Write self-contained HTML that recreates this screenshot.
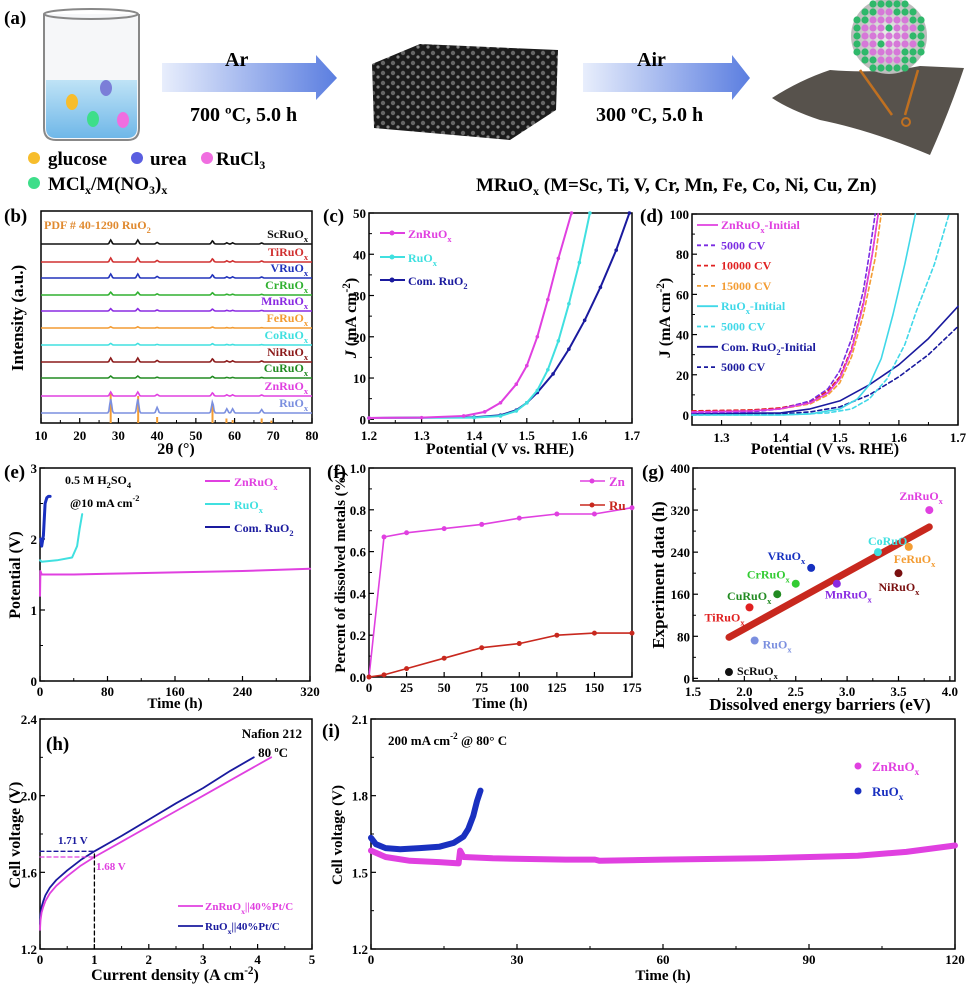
<!DOCTYPE html>
<html><head><meta charset="utf-8"><style>
html,body{margin:0;padding:0;background:#fff;}
svg{display:block;font-family:"Liberation Serif",serif;font-weight:bold;}
</style></head><body>
<svg id="fig" width="967" height="984" viewBox="0 0 967 984" xmlns="http://www.w3.org/2000/svg">
<defs>
<linearGradient id="arr" x1="0" x2="1"><stop offset="0" stop-color="#e8eefc"/><stop offset="1" stop-color="#5b7ee0"/></linearGradient>
<linearGradient id="liq" x1="0" x2="0" y1="0" y2="1"><stop offset="0" stop-color="#bfe3f6"/><stop offset="1" stop-color="#6fb7e8"/></linearGradient>
<radialGradient id="sph"><stop offset="0" stop-color="#eee"/><stop offset="1" stop-color="#bbb"/></radialGradient>
<pattern id="foam" width="10" height="10" patternUnits="userSpaceOnUse"><rect width="10" height="10" fill="#1b1b1b"/><circle cx="3" cy="3" r="2.2" fill="#666"/><circle cx="8" cy="7" r="1.6" fill="#888"/></pattern>
</defs>
<g>
<text x="4" y="24" font-size="19">(a)</text>
<path d="M44 14 L44 128 Q44 140 56 140 L128 140 Q139 140 139 128 L139 14" fill="#f6f7f9" stroke="#888" stroke-width="2"/>
<ellipse cx="91" cy="14" rx="47" ry="5" fill="none" stroke="#888" stroke-width="2"/>
<path d="M46 80 L137 80 L137 128 Q137 138 127 138 L56 138 Q46 138 46 128Z" fill="url(#liq)"/>
<ellipse cx="72" cy="102" rx="6" ry="8" fill="#f7bd2c"/>
<ellipse cx="106" cy="88" rx="6" ry="8" fill="#7b7ed8"/>
<ellipse cx="93" cy="119" rx="6" ry="8" fill="#3ede8a"/>
<ellipse cx="123" cy="120" rx="6" ry="8" fill="#f06ee0"/>
<path d="M162 63 L316 63 L316 55 L337 78 L316 100 L316 92 L162 92Z" fill="url(#arr)"/>
<text x="225" y="66" font-size="20">Ar</text>
<text x="190" y="121" font-size="20">700 ºC, 5.0 h</text>
<path d="M372 64 L420 44 L558 50 L556 110 L510 140 L374 128Z" fill="url(#foam)"/>
<path d="M583 63 L732 63 L732 55 L750 78 L732 100 L732 92 L583 92Z" fill="url(#arr)"/>
<text x="637" y="66" font-size="20">Air</text>
<text x="596" y="121" font-size="20">300 ºC, 5.0 h</text>
<path d="M772 98 Q800 80 830 70 Q880 74 920 66 L964 68 Q950 110 930 155 Q870 130 820 120 Q790 110 772 98Z" fill="#57524c"/>
<line x1="860" y1="70" x2="892" y2="115" stroke="#c07020" stroke-width="2.5"/>
<line x1="918" y1="70" x2="905" y2="115" stroke="#c07020" stroke-width="2.5"/>
<circle cx="906" cy="122" r="4" fill="none" stroke="#c07020" stroke-width="2"/>
<circle cx="889" cy="36" r="38" fill="url(#sph)"/>
<g id="atoms"></g>
<circle cx="34" cy="158" r="6" fill="#f7bd2c"/>
<text x="48" y="165" font-size="19">glucose</text>
<circle cx="137" cy="158" r="6" fill="#5a5ee0"/>
<text x="150" y="165" font-size="19">urea</text>
<circle cx="207" cy="158" r="6" fill="#f06ee0"/>
<text x="216" y="165" font-size="19">RuCl<tspan font-size="12" dy="4">3</tspan></text>
<circle cx="34" cy="183" r="6" fill="#3ede8a"/>
<text x="48" y="190" font-size="19">MCl<tspan font-size="12" dy="4">x</tspan><tspan dy="-4">/M(NO</tspan><tspan font-size="12" dy="4">3</tspan><tspan dy="-4">)</tspan><tspan font-size="12" dy="4">x</tspan></text>
<text x="476" y="191" font-size="19">MRuO<tspan font-size="12" dy="4">x</tspan><tspan dy="-4"> (M=Sc, Ti, V, Cr, Mn, Fe, Co, Ni, Cu, Zn)</tspan></text>
</g>
<g id="charts"></g>
</svg>
<script>
// ---------- data ----------
var xrdSamples = ["ScRuOx","TiRuOx","VRuOx","CrRuOx","MnRuOx","FeRuOx","CoRuOx","NiRuOx","CuRuOx","ZnRuOx","RuOx"];
var xrdPeaks = [28.0,35.0,40.0,54.3,58.0,59.5,67.0];
var xrdPeakHeights = [1.0,1.0,0.4,0.8,0.3,0.3,0.25];
var xrdSampleScale = [1.0,1.0,1.0,0.7,0.6,0.3,0.4,1.0,0.5,1.0,3.5];
var pdfPeaks = [28.0,35.1,40.0,54.3,57.9,59.5,67.0,69.5];
var pdfHeights = [100,90,20,60,15,10,15,8];

var cZnV=[1.2,1.3,1.38,1.42,1.45,1.48,1.5,1.52,1.54,1.56,1.585];
var cZnJ=[0.3,0.4,0.8,1.8,4,8.5,13,20,29,39,50];
var cRuV=[1.2,1.4,1.45,1.48,1.5,1.52,1.54,1.56,1.58,1.6,1.62];
var cRuJ=[0.3,0.4,0.8,2,4,7,12,19,28,38,50];
var cComV=[1.2,1.4,1.45,1.48,1.5,1.52,1.55,1.58,1.61,1.64,1.67,1.695];
var cComJ=[0.3,0.5,1,2.2,4,6.5,11,17,24,32,41,50];

var dZnIniV=[1.25,1.35,1.4,1.45,1.48,1.5,1.52,1.54,1.555,1.565];
var dZnIniJ=[1.5,2,3,6,11,18,32,55,80,100];
var dZn5kV=[1.25,1.35,1.4,1.45,1.48,1.5,1.52,1.54,1.55,1.56];
var dZn5kJ=[1,1.5,3,7,13,22,38,62,80,100];
var dZn10kV=[1.25,1.35,1.4,1.45,1.48,1.5,1.52,1.54,1.555,1.565];
var dZn10kJ=[2,2.5,3.5,6.5,12,19,33,56,80,100];
var dZn15kV=[1.25,1.35,1.4,1.45,1.48,1.5,1.52,1.54,1.56,1.57];
var dZn15kJ=[1.5,2,3,5.5,10,16,29,50,78,100];
var dRuIniV=[1.25,1.4,1.45,1.5,1.53,1.55,1.57,1.59,1.61,1.628];
var dRuIniJ=[0,0,0.5,3,8,15,28,50,75,100];
var dRu5kV=[1.25,1.4,1.48,1.52,1.55,1.58,1.61,1.63,1.66,1.685];
var dRu5kJ=[0,0,1,3,8,18,35,52,75,100];
var dComIniV=[1.25,1.4,1.45,1.5,1.55,1.6,1.65,1.7];
var dComIniJ=[0.5,1,3,7,15,25,38,54];
var dCom5kV=[1.25,1.4,1.45,1.5,1.55,1.6,1.65,1.7];
var dCom5kJ=[0,0.5,1.5,4,10,19,30,44];

var eZnT=[0,0.5,2,40,80,160,240,320];
var eZnV=[1.2,1.55,1.5,1.5,1.51,1.53,1.55,1.58];
var eRuT=[0,2,20,38,44,47,50];
var eRuV=[1.7,1.68,1.7,1.74,1.9,2.15,2.35];
var eComT=[1,2,4,6,8,10,12];
var eComV=[2.0,1.9,2.05,2.5,2.58,2.6,2.6];

var fTime=[0,10,25,50,75,100,125,150,175];
var fZn=[0,0.67,0.69,0.71,0.73,0.76,0.78,0.78,0.81];
var fRu=[0,0.01,0.04,0.09,0.14,0.16,0.20,0.21,0.21];

var gNames=["ScRuOx","RuOx","TiRuOx","CuRuOx","CrRuOx","VRuOx","MnRuOx","CoRuOx","NiRuOx","FeRuOx","ZnRuOx"];
var gEnergy=[1.85,2.1,2.05,2.32,2.5,2.65,2.9,3.3,3.5,3.6,3.8];
var gHours=[12,72,135,160,180,210,180,240,200,250,320];
var gColors=["#111","#7b8fdf","#e02020","#228b22","#33cc33","#1530c0","#8a2be2","#40e0e0","#7a1010","#f39c33","#e040e0"];
var gFitX=[1.85,3.8];
var gFitY=[78,288];

var hZnJ=[0,0.01,0.03,0.06,0.1,0.18,0.3,0.5,0.75,1,1.5,2,2.5,3,3.5,4.25];
var hZnV=[1.3,1.35,1.39,1.42,1.45,1.49,1.53,1.58,1.635,1.68,1.76,1.84,1.92,2.0,2.08,2.2];
var hRuJ=[0,0.01,0.03,0.06,0.1,0.18,0.3,0.5,0.75,1,1.5,2,2.5,3,3.5,3.93];
var hRuV=[1.33,1.38,1.42,1.45,1.48,1.52,1.56,1.61,1.665,1.71,1.79,1.875,1.96,2.04,2.13,2.2];

var iZnT=[0,3,8,14,18,18.3,19,25,40,46,47,60,80,100,110,120];
var iZnV=[1.585,1.56,1.545,1.54,1.535,1.585,1.56,1.555,1.55,1.55,1.545,1.55,1.555,1.565,1.58,1.605];
var iRuT=[0,1,3,6,10,14,17,19,20,21,21.8,22.5];
var iRuV=[1.635,1.61,1.595,1.59,1.595,1.6,1.615,1.64,1.67,1.72,1.78,1.82];

// ---------- helpers ----------
var NS="http://www.w3.org/2000/svg";
var root=document.getElementById('charts');
function mk(tag,attrs,parent){var e=document.createElementNS(NS,tag);for(var k in attrs){e.setAttribute(k,String(attrs[k]));}(parent||root).appendChild(e);return e;}
function txt(s,x,y,size,fill,anchor,parent){
  var e=mk('text',{x:x,y:y,'font-size':size,fill:fill||'#000','text-anchor':anchor||'start'},parent);
  var segs=Array.isArray(s)?s:[String(s)];
  var shift=0;
  segs.forEach(function(seg){
    var t=document.createElementNS(NS,'tspan');
    var c=seg.charAt(0),body=seg;
    var dy=0;
    if(c==='_'){body=seg.slice(1);dy=4;t.setAttribute('font-size',size*0.7);}
    else if(c==='^'){body=seg.slice(1);dy=-6;t.setAttribute('font-size',size*0.7);}
    else if(c==='*'){body=seg.slice(1);t.setAttribute('font-style','italic');}
    t.setAttribute('dy',dy-shift);shift=dy;
    t.textContent=body;e.appendChild(t);
  });
  return e;
}
function panel(x0,x1,y0,y1,xmin,xmax,ymin,ymax){
  return {x0:x0,x1:x1,y0:y0,y1:y1,
    sx:function(v){return x0+(v-xmin)/(xmax-xmin)*(x1-x0);},
    sy:function(v){return y1-(v-ymin)/(ymax-ymin)*(y1-y0);}};
}
function axes(p,name,xt,yt,xminor,yminor,xfmt,yfmt,xoff){
  var g=mk('g',{});
  
  
  var f=mk('rect',{x:p.x0,y:p.y0,width:p.x1-p.x0,height:p.y1-p.y0,fill:'none',stroke:'#000','stroke-width':1.5},g);
  
  
  xt.forEach(function(v){var X=p.sx(v);mk('line',{x1:X,x2:X,y1:p.y1,y2:p.y1-5,stroke:'#000','stroke-width':1.2},g);
    var t=txt(xfmt?xfmt(v):String(v),X,p.y1+(xoff||16),13,'#000','middle',g);
    
    });
  (xminor||[]).forEach(function(v){var X=p.sx(v);mk('line',{x1:X,x2:X,y1:p.y1,y2:p.y1-3,stroke:'#000'},g);});
  yt.forEach(function(v){var Y=p.sy(v);mk('line',{x1:p.x0,x2:p.x0+5,y1:Y,y2:Y,stroke:'#000','stroke-width':1.2},g);
    var t=txt(yfmt?yfmt(v):String(v),p.x0-3,Y+5,13,'#000','end',g);
    
    });
  (yminor||[]).forEach(function(v){var Y=p.sy(v);mk('line',{x1:p.x0,x2:p.x0+3,y1:Y,y2:Y,stroke:'#000'},g);});
}
function line(p,xs,ys,color,w,dash,name){
  var d=xs.map(function(x,i){return (i?'L':'M')+p.sx(x).toFixed(1)+' '+p.sy(ys[i]).toFixed(1);}).join(' ');
  var e=mk('path',{d:d,fill:'none',stroke:color,'stroke-width':w||1.5,'stroke-dasharray':dash||'none','stroke-linejoin':'round','stroke-linecap':'round'});
  
  
  return e;
}
function ylab(s,x,y,size,name){var t=txt(s,x,y,size||17,'#000','middle');t.setAttribute('transform','rotate(-90 '+x+' '+y+')');
  
  return t;}
function lab(s,x,y,size,fill,name,anchor){var t=txt(s,x,y,size,fill,anchor);
  
  return t;}
function rng(a,b,s){var r=[];for(var v=a;v<=b+1e-9;v+=s)r.push(+v.toFixed(4));return r;}
function xname(n){return [n.replace(/x$/,''),'_x'];}

// sphere atoms
try{(function(){var g=document.getElementById('atoms');
for(var i=0;i<11;i++){for(var j=0;j<11;j++){var x=849+i*8,y=-4+j*8;
  var r2=(x-889)*(x-889)+(y-36)*(y-36);
  if(r2<36*36){mk('circle',{cx:x,cy:y,r:3.6,fill:(r2>27*27||(i*3+j*5)%7===0)?'#2fb86a':'#d678d8'},g);}}}})();}catch(err){}

// ---------- panel b ----------
try{(function(){
var pb=panel(41,312,211,423,10,80,0,1);
lab('(b)',4,222,19,'#000','panel-b-label');
lab(['PDF # 40-1290 RuO','_2'],44,229,12,'#e08a30','pdf-reference-label');
axes(pb,'panel-b',rng(10,80,10),[],rng(15,75,10),null,null,null,17);
var xrdBase=[244,262,278,295,311,328,345,362,378,396,413];
var xrdCols=["#111","#d03030","#2233bb","#30b030","#8a2be2","#f39c33","#40e0e0","#8b1a1a","#228b22","#e040e0","#7b8fdf"];
pdfPeaks.forEach(function(pk,i){var X=pb.sx(pk);var e=mk('line',{x1:X,x2:X,y1:pb.y1,y2:pb.y1-pdfHeights[i]*0.3,stroke:'#f39c33','stroke-width':2});
  
  });
xrdSamples.forEach(function(s,k){
  var d='';
  for(var t=10;t<=80;t+=0.25){var v=0;xrdPeaks.forEach(function(pk,i){v+=xrdPeakHeights[i]*Math.exp(-Math.pow((t-pk)/0.35,2));});
    var y=xrdBase[k]-v*4*xrdSampleScale[k];d+=(t===10?'M':'L')+pb.sx(t).toFixed(1)+' '+y.toFixed(1);}
  var e=mk('path',{d:d,fill:'none',stroke:xrdCols[k],'stroke-width':1.6});
  
  
  lab(xname(s),308,xrdBase[k]-6,12,xrdCols[k],'xrd-label-'+s,'end');
});
ylab('Intensity (a.u.)',23,318,17,'panel-b-y-title');
lab('2θ (°)',176,454,16,'#000','panel-b-x-title','middle');
})();}catch(err){}

// ---------- panel c ----------
try{(function(){
var pc=panel(369,632,213,423,1.2,1.7,-0.9,50);
lab('(c)',323,222,19,'#000','panel-c-label');
axes(pc,'panel-c',rng(1.2,1.7,0.1),rng(0,50,10),rng(1.25,1.65,0.1),rng(5,45,10),function(v){return v.toFixed(1);},null,17);
ylab(['*J',' (mA cm','^-2',')'],356,318,16,'panel-c-y-title');
lab('Potential (V vs. RHE)',500,454,16,'#000','panel-c-x-title','middle');
[[cComV,cComJ,'#1a1a9e','com-ruo2'],[cRuV,cRuJ,'#40e0e0','ruox'],[cZnV,cZnJ,'#e040e0','znruox']].forEach(function(s){
  line(pc,s[0],s[1],s[2],2,null,'panel-c-curve-'+s[3]);
  s[0].forEach(function(v,i){var c=mk('circle',{cx:pc.sx(v),cy:pc.sy(s[1][i]),r:1.8,fill:s[2]});
    
    });
});
[[['ZnRuO','_x'],'#e040e0',233],[['RuO','_x'],'#40e0e0',257],[['Com. RuO','_2'],'#1a1a9e',280]].forEach(function(L){
  var e=mk('line',{x1:380,x2:405,y1:L[2],y2:L[2],stroke:L[1],'stroke-width':2});
  
  
  mk('circle',{cx:392,cy:L[2],r:2.5,fill:L[1]});
  lab(L[0],408,L[2]+5,12,L[1],'panel-c-legend-entry');
});
})();}catch(err){}

// ---------- panel d ----------
try{(function(){
var pd=panel(692,958,214,425,1.25,1.7,-5,100);
lab('(d)',640,222,19,'#000','panel-d-label');
axes(pd,'panel-d',rng(1.3,1.7,0.1),rng(0,100,20),rng(1.25,1.65,0.1),rng(10,90,20),function(v){return v.toFixed(1);},null,17);
ylab(['J (mA cm','^-2',')'],670,318,16,'panel-d-y-title');
lab('Potential (V vs. RHE)',825,454,16,'#000','panel-d-x-title','middle');
var dSeries=[[dCom5kV,dCom5kJ,'#1a1a9e','4 3','com-5000'],[dComIniV,dComIniJ,'#1a1a9e',null,'com-initial'],[dRu5kV,dRu5kJ,'#40d8e8','4 3','ruox-5000'],[dRuIniV,dRuIniJ,'#40d8e8',null,'ruox-initial'],
 [dZn15kV,dZn15kJ,'#f39c33','4 3','zn-15000'],[dZn10kV,dZn10kJ,'#e02020','4 3','zn-10000'],[dZn5kV,dZn5kJ,'#7a2be2','4 3','zn-5000'],[dZnIniV,dZnIniJ,'#e040e0',null,'zn-initial']];
dSeries.forEach(function(s){line(pd,s[0],s[1],s[2],1.6,s[3],'panel-d-curve-'+s[4]);});
[[['ZnRuO','_x','-Initial'],'#e040e0',null],['5000 CV','#7a2be2','4 3'],['10000 CV','#e02020','4 3'],['15000 CV','#f39c33','4 3'],[['RuO','_x','-Initial'],'#40d8e8',null],['5000 CV','#40d8e8','4 3'],[['Com. RuO','_2','-Initial'],'#1a1a9e',null],['5000 CV','#1a1a9e','4 3']].forEach(function(L,i){
  var y=225+i*20.3;
  var e=mk('line',{x1:697,x2:718,y1:y,y2:y,stroke:L[1],'stroke-width':1.8,'stroke-dasharray':L[2]||'none'});
  
  
  lab(L[0],721,y+4,12,L[1],'panel-d-legend-entry');
});
})();}catch(err){}

// ---------- panel e ----------
try{(function(){
var pe=panel(40,310,468,681,0,320,0,3);
lab('(e)',4,478,19,'#000','panel-e-label');
axes(pe,'panel-e',rng(0,320,80),rng(0,3,1),rng(40,280,80),rng(0.5,2.5,1),null,null,15);
ylab('Potential (V)',20,575,16,'panel-e-y-title');
lab('Time (h)',175,708,15,'#000','panel-e-x-title','middle');
line(pe,eZnT,eZnV,'#e040e0',2,null,'panel-e-curve-znruox');
line(pe,eRuT,eRuV,'#40e0e0',2,null,'panel-e-curve-ruox');
line(pe,eComT,eComV,'#1a30c0',3,null,'panel-e-curve-com-ruo2');
lab(['0.5 M H','_2','SO','_4'],65,484,12,'#000','panel-e-electrolyte');
lab(['@10 mA cm','^-2'],70,507,12,'#000','panel-e-current');
[[['ZnRuO','_x'],'#e040e0',481],[['RuO','_x'],'#40e0e0',504],[['Com. RuO','_2'],'#1a1a9e',527]].forEach(function(L){
  var e=mk('line',{x1:205,x2:230,y1:L[2],y2:L[2],stroke:L[1],'stroke-width':2});
  
  
  lab(L[0],234,L[2]+5,12,L[1],'panel-e-legend-entry');
});
})();}catch(err){}

// ---------- panel f ----------
try{(function(){
var pf=panel(369,632,468,677,0,175,0,1.0);
lab('(f)',327,478,19,'#000','panel-f-label');
axes(pf,'panel-f',rng(0,175,25),rng(0,1,0.2),null,rng(0.1,0.9,0.2),null,function(v){return v.toFixed(1);},15);
ylab('Percent of dissolved metals (%)',345,572,15,'panel-f-y-title');
lab('Time (h)',500,708,15,'#000','panel-f-x-title','middle');
[[fZn,'#e040e0','zn'],[fRu,'#c8281e','ru']].forEach(function(s){
  line(pf,fTime,s[0],s[1],1.6,null,'panel-f-line-'+s[2]);
  fTime.forEach(function(t,i){var c=mk('circle',{cx:pf.sx(t),cy:pf.sy(s[0][i]),r:2.5,fill:s[1]});
    
    });
});
[['Zn','#e040e0',481],['Ru','#c8281e',505]].forEach(function(L){
  var e=mk('line',{x1:580,x2:605,y1:L[2],y2:L[2],stroke:L[1],'stroke-width':1.6});
  
  
  mk('circle',{cx:592,cy:L[2],r:2.5,fill:L[1]});
  lab(L[0],609,L[2]+5,13,L[1],'panel-f-legend-entry');
});
})();}catch(err){}

// ---------- panel g ----------
try{(function(){
var pg=panel(693,955,468,681,1.5,4.05,-5,400);
lab('(g)',642,478,19,'#000','panel-g-label');
axes(pg,'panel-g',rng(1.5,4.0,0.5),rng(0,400,80),rng(1.75,3.75,0.5),rng(40,360,80),function(v){return v.toFixed(1);},null,15);
ylab('Experiment data (h)',664,575,17,'panel-g-y-title');
lab('Dissolved energy barriers (eV)',820,710,17,'#000','panel-g-x-title','middle');
line(pg,gFitX,gFitY,'#c8281e',7,null,'panel-g-fit-line');
var gLabOff=[[8,3,'start'],[8,8,'start'],[-5,14,'end'],[-6,6,'end'],[-6,-5,'end'],[-6,-8,'end'],[-12,15,'start'],[-10,-7,'start'],[-20,18,'start'],[-15,16,'start'],[-30,-10,'start']];
gNames.forEach(function(n,i){var c=mk('circle',{cx:pg.sx(gEnergy[i]),cy:pg.sy(gHours[i]),r:4,fill:gColors[i]});
  
  
  lab(xname(n),pg.sx(gEnergy[i])+gLabOff[i][0],pg.sy(gHours[i])+gLabOff[i][1],12,gColors[i],'panel-g-label-'+n,gLabOff[i][2]);
});
})();}catch(err){}

// ---------- panel h ----------
try{(function(){
var ph=panel(40,312,719,949,0,5,1.2,2.4);
lab('(h)',46,750,19,'#000','panel-h-label');
axes(ph,'panel-h',rng(0,5,1),rng(1.2,2.4,0.4),rng(0.5,4.5,1),rng(1.4,2.2,0.4),null,function(v){return v.toFixed(1);},15);
ylab('Cell voltage (V)',20,835,16,'panel-h-y-title');
lab(['Current density (A cm','^-2',')'],175,980,16,'#000','panel-h-x-title','middle');
line(ph,hRuJ,hRuV,'#1a1a9e',1.8,null,'panel-h-curve-ruox');
line(ph,hZnJ,hZnV,'#e040e0',1.8,null,'panel-h-curve-znruox');
line(ph,[0,1],[1.71,1.71],'#1a1a9e',1.3,'4 3','panel-h-ref-171');
line(ph,[0,1],[1.68,1.68],'#e040e0',1.3,'4 3','panel-h-ref-168');
line(ph,[1,1],[1.2,1.71],'#000',1.3,'4 3','panel-h-ref-vertical');
lab('1.71 V',58,844,11,'#1a1a9e','panel-h-annot-171');
lab('1.68 V',96,870,11,'#e040e0','panel-h-annot-168');
lab('Nafion 212',302,738,13,'#000','panel-h-membrane','end');
lab('80 ºC',288,757,13,'#000','panel-h-temp','end');
[[['ZnRuO','_x','||40%Pt/C'],'#e040e0',906],[['RuO','_x','||40%Pt/C'],'#1a1a9e',926]].forEach(function(L){
  var e=mk('line',{x1:178,x2:203,y1:L[2],y2:L[2],stroke:L[1],'stroke-width':1.8});
  
  
  lab(L[0],205,L[2]+4,11,L[1],'panel-h-legend-entry');
});
})();}catch(err){}

// ---------- panel i ----------
try{(function(){
var pq=panel(371,955,719,949,0,120,1.2,2.1);
lab('(i)',322,737,19,'#000','panel-i-label');
axes(pq,'panel-i',rng(0,120,30),rng(1.2,2.1,0.3),rng(15,105,30),rng(1.35,1.95,0.3),null,function(v){return v.toFixed(1);},15);
ylab('Cell voltage (V)',342,835,15,'panel-i-y-title');
lab('Time (h)',663,980,15,'#000','panel-i-x-title','middle');
line(pq,iZnT,iZnV,'#e040e0',6,null,'panel-i-curve-znruox');
line(pq,iRuT,iRuV,'#1a30c0',6,null,'panel-i-curve-ruox');
lab(['200 mA cm','^-2',' @ 80° C'],388,745,13,'#000','panel-i-condition');
[[['ZnRuO','_x'],'#e040e0',766],[['RuO','_x'],'#1a30c0',791]].forEach(function(L){
  var c=mk('circle',{cx:858,cy:L[2],r:3.5,fill:L[1]});
  
  
  lab(L[0],872,L[2]+5,13,L[1],'panel-i-legend-entry');
});
})();}catch(err){}
</script>
</body></html>
